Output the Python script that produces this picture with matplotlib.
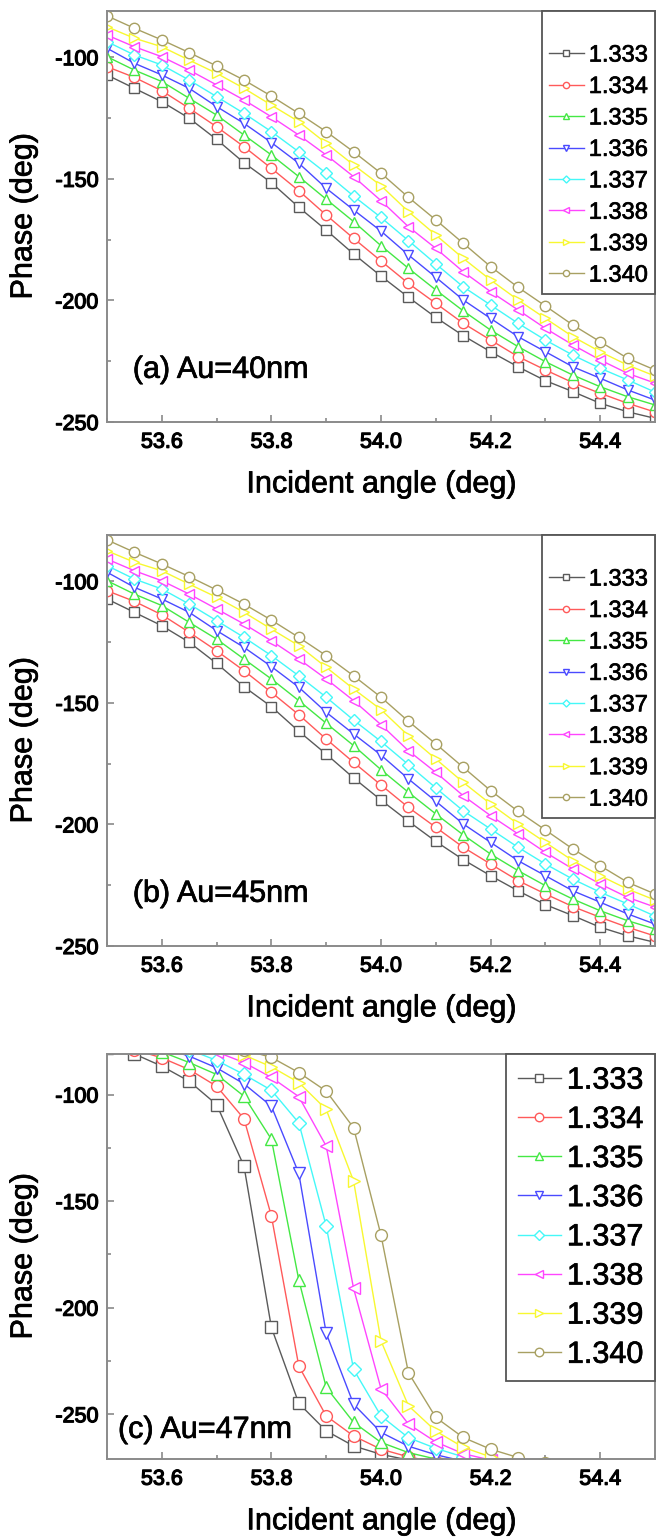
import matplotlib
matplotlib.use("Agg")
import matplotlib.pyplot as plt
import matplotlib.patheffects as pe
from matplotlib.text import Text
from matplotlib.ticker import MultipleLocator, FormatStrFormatter

plt.rcParams['font.family'] = ['Liberation Sans', 'DejaVu Sans']
plt.rcParams['axes.unicode_minus'] = False

# ---------------- data ----------------
angles = [53.50, 53.55, 53.60, 53.65, 53.70, 53.75, 53.80, 53.85, 53.90, 53.95, 54.00,
          54.05, 54.10, 54.15, 54.20, 54.25, 54.30, 54.35, 54.40, 54.45, 54.50]

ri_labels = ['1.333', '1.334', '1.335', '1.336', '1.337', '1.338', '1.339', '1.340']
colors = ['#5a5a5a', '#ff5a5a', '#44e844', '#4a4aff', '#44f8f8', '#ff45ff', '#f8f830', '#a8a062']
markers = ['s', 'o', '^', 'v', 'D', '<', '>', 'o']

# Panel (a): Au = 40 nm
a_1333 = [-107.3, -112.8, -118.3, -125.1, -133.8, -143.4, -151.6, -161.7, -171.1, -180.9, -190.0,
          -198.7, -207.0, -214.5, -221.1, -227.3, -233.0, -237.5, -242.3, -245.8, -248.5]
a_1334 = [-103.9, -108.3, -113.8, -121.0, -128.6, -136.8, -145.7, -154.9, -164.9, -174.5, -183.8,
          -193.0, -201.2, -209.4, -216.3, -223.1, -228.6, -233.8, -238.2, -242.3, -245.9]
a_1335 = [-99.8, -105.3, -110.0, -116.9, -123.8, -132.0, -140.2, -149.1, -158.4, -167.6, -177.5,
          -186.8, -195.7, -204.3, -212.2, -219.0, -225.2, -230.7, -235.5, -239.6, -243.0]
a_1336 = [-96.3, -102.5, -107.3, -112.8, -120.3, -127.2, -135.1, -143.6, -153.9, -162.8, -171.5,
          -181.3, -190.5, -199.8, -207.4, -214.9, -221.1, -227.3, -232.0, -236.8, -241.0]
a_1337 = [-93.6, -99.1, -103.2, -109.4, -116.2, -123.1, -130.6, -138.9, -147.7, -157.1, -165.9,
          -175.4, -185.0, -194.4, -201.9, -209.4, -216.3, -222.5, -227.9, -232.7, -237.7]
a_1338 = [-90.9, -95.7, -99.8, -105.3, -111.4, -117.6, -124.5, -132.0, -140.2, -149.1, -159.0,
          -169.7, -178.6, -188.2, -196.4, -203.9, -211.5, -218.3, -224.5, -230.0, -234.0]
a_1339 = [-87.5, -92.2, -95.7, -101.2, -106.6, -112.8, -119.7, -126.5, -135.4, -144.3, -152.8,
          -163.5, -173.1, -182.7, -191.6, -199.8, -207.4, -214.9, -221.1, -226.6, -231.1]
a_1340 = [-83.0, -88.1, -92.9, -98.1, -103.6, -109.4, -116.0, -123.1, -130.6, -138.9, -147.7,
          -157.6, -166.9, -176.5, -186.1, -194.6, -202.3, -210.1, -217.0, -223.8, -228.6]

# Panel (b): Au = 45 nm (curves read as the same as panel a)
b_1333 = list(a_1333)
b_1334 = list(a_1334)
b_1335 = list(a_1335)
b_1336 = list(a_1336)
b_1337 = list(a_1337)
b_1338 = list(a_1338)
b_1339 = list(a_1339)
b_1340 = list(a_1340)

# Panel (c): Au = 47 nm
c_1333 = [-78.0, -81.0, -86.7, -93.8, -104.7, -133.6, -209.3, -244.9, -257.8, -264.9, -268.8,
          -271.5, -273.5, -275.0, -276.0, -277.0, -277.5, -278.0, -278.5, -279.0, -279.3]
c_1334 = [-75.0, -79.0, -82.8, -88.3, -96.1, -111.4, -157.0, -227.4, -250.8, -260.2, -266.4,
          -270.0, -272.5, -274.0, -275.5, -276.5, -277.0, -277.5, -278.0, -278.5, -279.0]
c_1335 = [-72.0, -76.0, -80.0, -85.0, -90.6, -100.8, -121.0, -187.0, -237.4, -253.8, -263.2,
          -268.0, -271.0, -273.0, -274.5, -275.5, -276.5, -277.0, -277.5, -278.0, -278.5]
c_1336 = [-70.0, -74.0, -78.0, -82.0, -87.5, -95.0, -105.5, -137.0, -212.0, -245.3, -258.5,
          -265.0, -269.0, -272.0, -273.5, -275.0, -276.0, -276.5, -277.0, -277.5, -278.0]
c_1337 = [-68.0, -71.0, -75.0, -79.0, -84.0, -90.6, -98.0, -113.3, -161.7, -229.0, -250.8,
          -261.0, -266.0, -270.0, -272.5, -274.0, -275.0, -276.0, -276.5, -277.0, -277.5]
c_1338 = [-66.0, -69.0, -72.0, -76.0, -80.0, -85.0, -92.0, -101.0, -124.2, -191.0, -238.0,
          -254.6, -263.0, -268.5, -271.5, -273.5, -275.0, -276.0, -276.5, -277.0, -277.5]
c_1339 = [-64.0, -67.0, -70.0, -73.0, -77.0, -81.5, -87.0, -94.4, -107.0, -140.6, -215.6,
          -246.0, -257.9, -265.5, -270.0, -272.5, -274.0, -275.0, -276.0, -276.5, -277.0]
c_1340 = [-62.0, -65.0, -68.0, -71.0, -75.0, -79.0, -82.6, -89.7, -98.4, -115.6, -166.0,
          -230.5, -251.5, -260.9, -266.4, -270.3, -273.0, -274.5, -275.5, -276.0, -276.5]

panel_a = [a_1333, a_1334, a_1335, a_1336, a_1337, a_1338, a_1339, a_1340]
panel_b = [b_1333, b_1334, b_1335, b_1336, b_1337, b_1338, b_1339, b_1340]
panel_c = [c_1333, c_1334, c_1335, c_1336, c_1337, c_1338, c_1339, c_1340]

# ---------------- figure ----------------
W, H = 657, 1538
fig = plt.figure(figsize=(W / 100, H / 100), dpi=100)

spine_col = '#8a8a8a'
axes_list = []


def px_rect(left, top, right, bottom):
    return [left / W, 1 - bottom / H, (right - left) / W, (bottom - top) / H]


def make_panel(rect, series, ylim, label, label_xy, ms, leg_fs, leg_title, leg_title_fs,
               leg_spacing, handlelen, mscale, leg_pad):
    ax = fig.add_axes(rect)
    for vals, lab, col, mk in zip(series, ri_labels, colors, markers):
        msz = ms * 0.8 if mk == 'D' else ms
        ax.plot(angles, vals, color=col, lw=1.0, marker=mk, ms=msz, mfc='white',
                mec=col, mew=1.0, label=lab)
    ax.set_xlim(53.5, 54.5)
    ax.set_ylim(*ylim)
    ax.xaxis.set_major_locator(MultipleLocator(0.2))
    ax.xaxis.set_minor_locator(MultipleLocator(0.1))
    ax.xaxis.set_major_formatter(FormatStrFormatter('%.1f'))
    ax.yaxis.set_major_locator(MultipleLocator(50))
    ax.yaxis.set_minor_locator(MultipleLocator(25))
    ax.tick_params(which='both', direction='in', color=spine_col, width=1.2,
                   top=False, right=False)
    ax.tick_params(which='major', length=5, labelsize=15.5)
    ax.tick_params(which='minor', length=3)
    ax.tick_params(axis='x', pad=7)
    ax.tick_params(axis='y', pad=6)
    for s in ax.spines.values():
        s.set_color(spine_col)
        s.set_linewidth(1.4)
    ax.set_xlabel('Incident angle (deg)', fontsize=22, labelpad=12)
    ax.set_ylabel('Phase (deg)', fontsize=22, labelpad=12)
    ax.text(label_xy[0], label_xy[1], label, transform=ax.transAxes,
            fontsize=22, ha='left', va='center')
    leg = ax.legend(loc='upper right', bbox_to_anchor=(1.0, 1.0), borderaxespad=0.0,
                    fontsize=leg_fs, frameon=True, fancybox=False, framealpha=1.0,
                    edgecolor='#555555', markerscale=mscale, handlelength=handlelen,
                    handletextpad=0.2, labelspacing=leg_spacing, borderpad=leg_pad,
                    title=leg_title, title_fontsize=leg_title_fs)
    leg.get_frame().set_linewidth(1.3)
    axes_list.append(ax)
    return ax


make_panel(px_rect(107, 11, 655, 422), panel_a, (-250, -81), '(a) Au=40nm',
           (0.047, 0.127), 7.5, 17, ' ', 13, 0.40, 1.5, 0.6, 0.3)
make_panel(px_rect(107, 535, 655, 946), panel_b, (-250, -81), '(b) Au=45nm',
           (0.047, 0.127), 7.5, 17, ' ', 13, 0.40, 1.5, 0.6, 0.3)
make_panel(px_rect(107, 1054, 655, 1459), panel_c, (-271, -81), '(c) Au=47nm',
           (0.02, 0.072), 8.5, 22, None, 10, 0.30, 1.4, 0.72, 0.38)

# slightly heavier text, like the scanned original (tick labels exist after a draw)
fig.canvas.draw()
for t in fig.findobj(Text):
    if t.get_text().strip():
        t.set_path_effects([pe.withStroke(linewidth=0.5, foreground='black')])
for ax in axes_list:
    for tk in ax.xaxis.get_major_ticks() + ax.yaxis.get_major_ticks():
        tk.label1.set_path_effects([pe.withStroke(linewidth=0.9, foreground='black')])

fig.savefig('out.png', dpi=100)
